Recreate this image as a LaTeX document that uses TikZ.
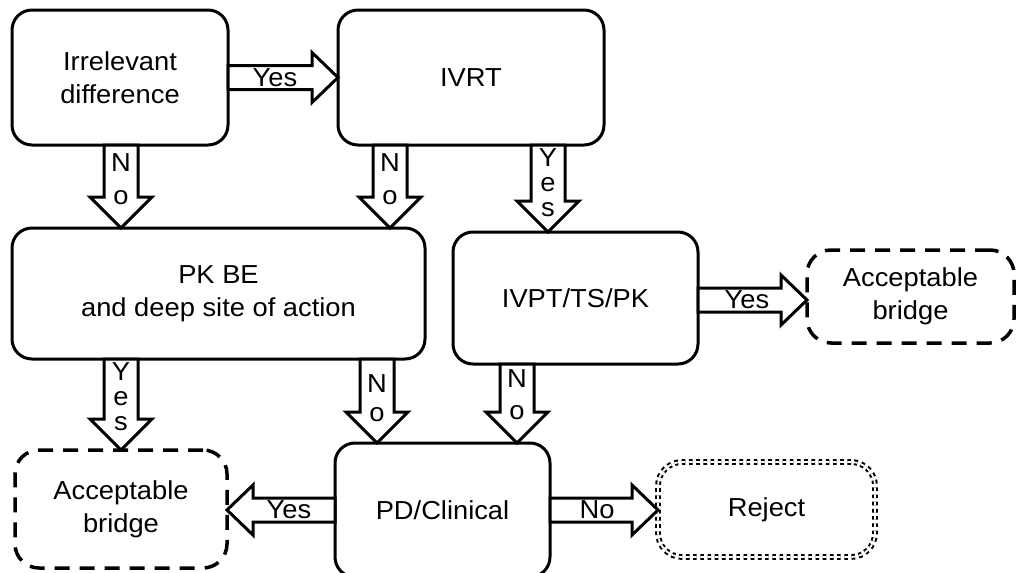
\documentclass[tikz,border=0pt]{standalone}
\usepackage{fontspec}
\setmainfont{Liberation Sans}[FakeStretch=1.05]
\usetikzlibrary{calc}

% Hollow block arrow from #1 to #2: shaft half width #3, head half width #4, head length #5
\newcommand\blockarrow[5]{%
  \coordinate (bh) at ($(#2)!#5!(#1)$);
  \draw[blk] ($(#1)!#3!90:(#2)$) -- ($(bh)!#3!90:(#2)$) -- ($(bh)!#4!90:(#2)$) -- (#2)
    -- ($(bh)!#4!-90:(#2)$) -- ($(bh)!#3!-90:(#2)$) -- ($(#1)!#3!-90:(#2)$) -- cycle;}
\newcommand\vblock[2]{\blockarrow{#1}{#2}{17pt}{31pt}{31pt}}
\newcommand\hblock[2]{\blockarrow{#1}{#2}{12pt}{25pt}{26pt}}

\tikzset{
  box/.style={draw, fill=white, line width=3pt, rounded corners=20pt, inner sep=0pt,
    outer sep=0pt, align=center, font=\fontsize{26pt}{33pt}\selectfont},
  dashbox/.style={box, line width=3.5pt, rounded corners=24pt, dash pattern=on 15pt off 10pt},
  dotbox/.style={box, line width=2pt, double=white, double distance=1.8pt,
    rounded corners=24pt, dash pattern=on 3.6pt off 3.6pt},
  blk/.style={draw, fill=white, line width=3pt, line join=miter},
  hlab/.style={inner sep=0pt, font=\fontsize{26pt}{26pt}\selectfont},
  vlab/.style={anchor=north, inner sep=0pt, align=center, font=\fontsize{26pt}{#1pt}\selectfont},
}

\begin{document}
\begin{tikzpicture}[x=1pt, y=-1pt]
  \path[use as bounding box] (0,0) rectangle (1021,573);
  \clip (0,0) rectangle (1021,573);
  \fill[white] (0,0) rectangle (1021,573);

  % decision boxes
  \node[box, minimum width=216pt, minimum height=135pt] (A) at (120,77.5) {Irrelevant\\difference};
  \node[box, minimum width=266pt, minimum height=135pt] (B) at (471,77.5) {IVRT};
  \node[box, minimum width=413pt, minimum height=131pt] (C) at (218.5,293.5) {PK BE\\and deep site of action};
  \node[box, minimum width=245pt, minimum height=132pt] (D) at (575.5,298) {IVPT/TS/PK};
  \node[box, minimum width=215pt, minimum height=134pt] (G) at (442.5,510) {PD/Clinical};

  % outcomes
  \node[dashbox, minimum width=207pt, minimum height=93pt] (E) at (910.5,296.5) {Acceptable\\bridge};
  \node[dashbox, minimum width=212pt, minimum height=118pt] (F) at (121,509) {Acceptable\\bridge};
  \node[dotbox, minimum width=217pt, minimum height=95pt] (R) at (766.5,509.5) {Reject};

  % columns and rows of the connectors
  \coordinate (c121) at (121,0);
  \coordinate (c390) at (390,0);
  \coordinate (c548) at (548,0);
  \coordinate (c377) at (377,0);
  \coordinate (c517) at (517,0);
  \coordinate (r300) at (0,300);

  \coordinate (ac0) at (A.south -| c121);  \coordinate (ac1) at (C.north -| c121);
  \coordinate (bc0) at (B.south -| c390);  \coordinate (bc1) at (C.north -| c390);
  \coordinate (bd0) at (B.south -| c548);  \coordinate (bd1) at (D.north -| c548);
  \coordinate (cf0) at (C.south -| c121);  \coordinate (cf1) at (F.north -| c121);
  \coordinate (cg0) at (C.south -| c377);  \coordinate (cg1) at (G.north -| c377);
  \coordinate (dg0) at (D.south -| c517);  \coordinate (dg1) at (G.north -| c517);
  \coordinate (de0) at (D.east |- r300);   \coordinate (de1) at (E.west |- r300);
  \coordinate (gf1) at (F.east |- G.west);
  \coordinate (gr1) at (R.west |- G.east);

  % connectors
  \hblock{A.east}{B.west}
  \vblock{ac0}{ac1}
  \vblock{bc0}{bc1}
  \vblock{bd0}{bd1}
  \hblock{de0}{de1}
  \vblock{cf0}{cf1}
  \vblock{cg0}{cg1}
  \vblock{dg0}{dg1}
  \hblock{G.west}{gf1}
  \hblock{G.east}{gr1}

  % connector labels
  \node[hlab] at ($(A.east)!47pt!(B.west)$) {Yes};
  \node[hlab] at ($(de0)!49pt!(de1)$) {Yes};
  \node[hlab] at ($(G.west)!46pt!(gf1)$) {Yes};
  \node[hlab] at ($(G.east)!47pt!(gr1)$) {No};
  \node[vlab=33] at ($(ac0)+(0,8)$) {N\\o};
  \node[vlab=33] at ($(bc0)+(0,8)$) {N\\o};
  \node[vlab=25] at ($(bd0)+(0,3)$) {Y\\e\\s};
  \node[vlab=25] at ($(cf0)+(0,3)$) {Y\\e\\s};
  \node[vlab=29] at ($(cg0)+(0,15)$) {N\\o};
  \node[vlab=32] at ($(dg0)+(0,5)$) {N\\o};
\end{tikzpicture}
\end{document}
